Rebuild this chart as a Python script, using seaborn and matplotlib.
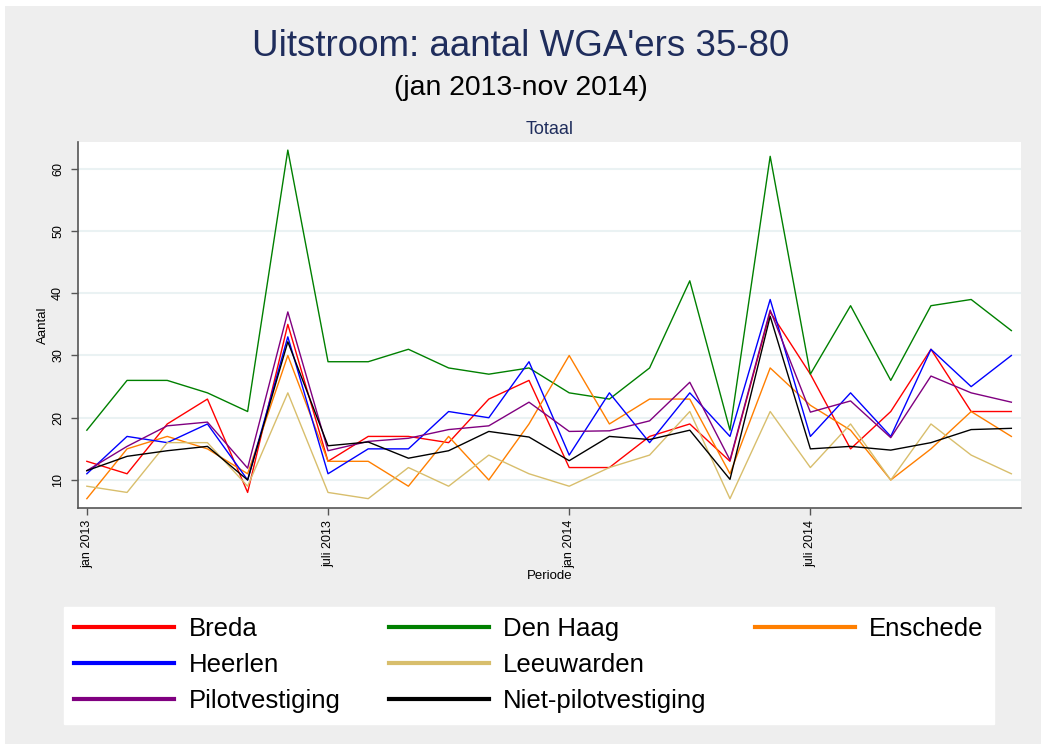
import matplotlib
matplotlib.use("Agg")
import matplotlib.pyplot as plt
import numpy as np
import pandas as pd
import seaborn as sns
from matplotlib.lines import Line2D
from matplotlib.patches import Rectangle

# maandelijkse uitstroom, jan 2013 t/m dec 2014
breda = [13, 11, 19, 23, 8, 35, 13, 17, 17, 16, 23, 26,
         12, 12, 17, 19, 13, 37, 27, 15, 21, 31, 21, 21]
den_haag = [18, 26, 26, 24, 21, 63, 29, 29, 31, 28, 27, 28,
            24, 23, 28, 42, 18, 62, 27, 38, 26, 38, 39, 34]
enschede = [7, 15, 17, 15, 11, 30, 13, 13, 9, 17, 10, 19,
            30, 19, 23, 23, 11, 28, 22, 18, 10, 15, 21, 17]
heerlen = [11, 17, 16, 19, 10, 33, 11, 15, 15, 21, 20, 29,
           14, 24, 16, 24, 17, 39, 17, 24, 17, 31, 25, 30]
leeuwarden = [9, 8, 16, 16, 9, 24, 8, 7, 12, 9, 14, 11,
              9, 12, 14, 21, 7, 21, 12, 19, 10, 19, 14, 11]
pilot = [11.5, 15.4, 18.7, 19.3, 11.9, 37.0, 14.7, 16.2, 16.7, 18.1, 18.7, 22.5,
         17.8, 17.9, 19.5, 25.7, 13.2, 37.3, 20.9, 22.7, 16.8, 26.7, 24.0, 22.5]
niet_pilot = [11.5, 13.8, 14.7, 15.4, 10.0, 32.2, 15.5, 16.1, 13.5, 14.7, 17.8, 16.9,
              13.1, 17.0, 16.5, 18.0, 10.1, 36.3, 15.0, 15.4, 14.8, 16.0, 18.1, 18.3]

reeksen = {
    "Breda": breda,
    "Den Haag": den_haag,
    "Enschede": enschede,
    "Heerlen": heerlen,
    "Leeuwarden": leeuwarden,
    "Pilotvestiging": pilot,
    "Niet-pilotvestiging": niet_pilot,
}
kleuren = {
    "Breda": "#FF0000",
    "Den Haag": "#008000",
    "Enschede": "#FF7F00",
    "Heerlen": "#0000FF",
    "Leeuwarden": "#D8BE6C",
    "Pilotvestiging": "#800080",
    "Niet-pilotvestiging": "#000000",
}
tick_pos = [0, 6, 12, 18]
tick_labels = ["jan 2013", "juli 2013", "jan 2014", "juli 2014"]

df = pd.DataFrame(reeksen)
df["maand"] = np.arange(len(df))
df = df.melt(id_vars="maand", var_name="vestiging", value_name="aantal")

plt.rcParams["font.family"] = ["Liberation Sans", "DejaVu Sans"]
navy = "#1F2D5C"

fig = plt.figure(figsize=(10.41, 7.44), dpi=100, facecolor="white")
fig.patches.append(Rectangle((5 / 1041, 0), 1, 1 - 6 / 744, transform=fig.transFigure,
                             facecolor="#EEEEEE", edgecolor="none", zorder=-10))

ax = fig.add_axes([78 / 1041, 1 - 508 / 744, (1021 - 78) / 1041, (508 - 142) / 744])
ax.set_facecolor("white")
ax.yaxis.grid(True, color="#EAF2F3", linewidth=1.5)
ax.set_axisbelow(True)

sns.lineplot(data=df, x="maand", y="aantal", hue="vestiging", palette=kleuren,
             linewidth=1.0, ax=ax, legend=False)

ax.set_xlim(-0.22, 23.24)
ax.set_ylim(5.5, 64.3)
ax.set_yticks([10, 20, 30, 40, 50, 60])
ax.set_yticklabels(["10", "20", "30", "40", "50", "60"], rotation=90, va="center", fontsize=9)
ax.set_xticks(tick_pos)
ax.set_xticklabels(tick_labels, rotation=90, fontsize=9)
ax.tick_params(axis="both", direction="out", length=5, width=1, color="#555555")
ax.tick_params(axis="y", pad=5)
for s in ["top", "right"]:
    ax.spines[s].set_visible(False)
for s in ["left", "bottom"]:
    ax.spines[s].set_color("#555555")
    ax.spines[s].set_linewidth(1.2)
ax.set_xlabel("Periode", fontsize=9.5, labelpad=1)
ax.set_ylabel("Aantal", fontsize=9.5, labelpad=2)
ax.set_title("Totaal", fontsize=13, color=navy, pad=6)

fig.text(0.5, 1 - 47 / 744, "Uitstroom: aantal WGA'ers 35-80", ha="center", va="center",
         fontsize=26.5, color=navy)
fig.text(0.5, 1 - 88 / 744, "(jan 2013-nov 2014)", ha="center", va="center",
         fontsize=20.4, color="black")

# legenda: kolomsgewijs gevuld, lege plek onder Enschede
volgorde = ["Breda", "Heerlen", "Pilotvestiging", "Den Haag", "Leeuwarden",
            "Niet-pilotvestiging", "Enschede"]
handles = [Line2D([], [], color=kleuren[n], linewidth=3) for n in volgorde]
labels = list(volgorde)
handles.append(Line2D([], [], color="none"))
labels.append("")
leg = fig.legend(handles, labels, ncol=3, loc="upper left",
                 bbox_to_anchor=(64 / 1041, 1 - 725 / 744, 930 / 1041, 118 / 744),
                 mode="expand", borderaxespad=0, fontsize=18.5, handlelength=3.9,
                 handletextpad=0.55, labelspacing=0.47, borderpad=0.4, columnspacing=2.0,
                 frameon=True, fancybox=False, edgecolor="white", facecolor="white",
                 framealpha=1)

fig.savefig("out.png", dpi=100, facecolor=fig.get_facecolor())
